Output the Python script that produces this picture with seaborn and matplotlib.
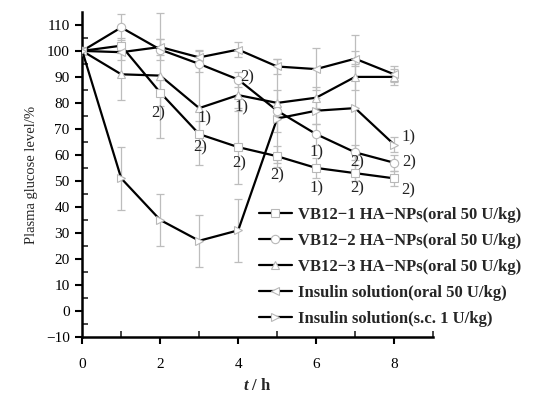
import numpy as np
import pandas as pd
import matplotlib
matplotlib.use("Agg")
import matplotlib.pyplot as plt
import seaborn as sns

# ---- data ----
hours = [0, 1, 2, 3, 4, 5, 6, 7, 8]
series_names = [
    "VB12\u22121 HA\u2212NPs(oral 50 U/kg)",
    "VB12\u22122 HA\u2212NPs(oral 50 U/kg)",
    "VB12\u22123 HA\u2212NPs(oral 50 U/kg)",
    "Insulin solution(oral 50 U/kg)",
    "Insulin solution(s.c. 1 U/kg)",
]
vb12_1 = [100, 102, 84, 68, 63, 59.5, 55, 53, 51]
vb12_2 = [100, 109, 100.5, 95, 89, 77, 68, 61, 57]
vb12_3 = [100, 91, 90.5, 78, 83, 80, 82, 90, 90]
ins_oral = [100, 99.5, 101.5, 97.5, 100.5, 94, 93, 97, 91]
ins_sc = [100, 51, 35, 27, 31, 74, 77, 78, 64]

err_vb12_1 = [0, 3, 5, 5, 14, 4, 4, 3, 3]
err_vb12_2 = [0, 5, 4, 3, 3, 20, 4, 3, 3]
err_vb12_3 = [0, 10, 24, 22, 5, 5, 4, 5, 3]
err_ins_oral = [0, 3, 3, 3, 3, 3, 8, 3, 3]
err_ins_sc = [0, 12, 10, 10, 12, 5, 5, 28, 3]

values = [vb12_1, vb12_2, vb12_3, ins_oral, ins_sc]
errors = [err_vb12_1, err_vb12_2, err_vb12_3, err_ins_oral, err_ins_sc]
markers = ["s", "o", "^", "<", ">"]

# significance labels: (series index, hour index, text, dx px, dy px)
sig_labels = [
    (1, 4, "2)", 9, 2), (0, 2, "2)", -2, -21), (2, 3, "1)", 5, -10),
    (2, 4, "1)", 3, -12), (0, 3, "2)", 1, -13), (0, 4, "2)", 1, -16),
    (0, 5, "2)", 0, -19), (1, 6, "1)", 0, -18), (0, 6, "1)", 0, -20),
    (1, 7, "2)", 2, -10), (0, 7, "2)", 2, -15), (4, 8, "1)", 14, 7),
    (1, 8, "2)", 15, 0), (0, 8, "2)", 14, -12),
]

rows = []
for name, vals in zip(series_names, values):
    for h, v in zip(hours, vals):
        rows.append({"t": h, "glucose": v, "group": name})
df = pd.DataFrame(rows)

sns.set_theme(style="ticks")
plt.rcParams["font.family"] = ["Liberation Serif", "DejaVu Serif"]
plt.rcParams["mathtext.fontset"] = "custom"
plt.rcParams["mathtext.it"] = "Liberation Serif:italic:bold"
plt.rcParams["mathtext.rm"] = "Liberation Serif:bold"

fig = plt.figure(figsize=(5.34, 3.96), dpi=100)
ax = fig.add_axes([0.154, 0.149, 0.657, 0.821])

for name, vals, errs in zip(series_names, values, errors):
    ax.errorbar(hours, vals, yerr=errs, fmt="none", ecolor="#bdbdbd",
                elinewidth=0.9, capsize=3, capthick=0.9, zorder=1)

sns.lineplot(data=df, x="t", y="glucose", hue="group", style="group",
             hue_order=series_names, style_order=series_names,
             palette=["black"] * 5, markers=markers, dashes=False,
             linewidth=1.6, markersize=6, markerfacecolor="white",
             markeredgecolor="#b8b8b8", markeredgewidth=0.8, ax=ax, zorder=3)

for si, hi, txt, dx, dy in sig_labels:
    ax.annotate(txt, xy=(hours[hi], values[si][hi]),
                xytext=(dx * 0.72, dy * 0.72), textcoords="offset points",
                ha="center", va="center", fontsize=12, color="#222222")

ax.set_xlim(0, 9)
ax.set_ylim(-10, 115)
ax.set_xticks([0, 2, 4, 6, 8])
ax.set_xticks([1, 3, 5, 7, 9], minor=True)
ax.set_yticks(np.arange(-10, 111, 10))
ax.set_yticks(np.arange(-5, 115, 5), minor=True)
ax.tick_params(axis="both", which="major", direction="out", length=5,
               width=1.5, labelsize=11, colors="black")
ax.tick_params(axis="x", which="major", pad=10)
ax.tick_params(axis="y", which="major", pad=4)
ax.tick_params(axis="both", which="minor", direction="in", length=4, width=1.2)
for sp in ["top", "right"]:
    ax.spines[sp].set_visible(False)
for sp in ["left", "bottom"]:
    ax.spines[sp].set_linewidth(1.8)
    ax.spines[sp].set_color("black")

ax.set_xlabel(r"$\mathit{t}$ / h", fontsize=12, fontweight="bold", labelpad=5)
ax.set_ylabel("Plasma glucose level/%", fontsize=10.5, labelpad=6)

leg = ax.legend(loc="upper left", bbox_to_anchor=(0.472, 0.494),
                bbox_transform=fig.transFigure, frameon=False,
                prop={"family": "Liberation Serif", "weight": "bold", "size": 12},
                handlelength=2.0, handletextpad=0.35, labelspacing=0.6,
                borderaxespad=0)
for h in leg.legend_handles:
    h.set_markerfacecolor("white")
    h.set_markeredgecolor("#b8b8b8")

fig.savefig("out.png", dpi=100)
